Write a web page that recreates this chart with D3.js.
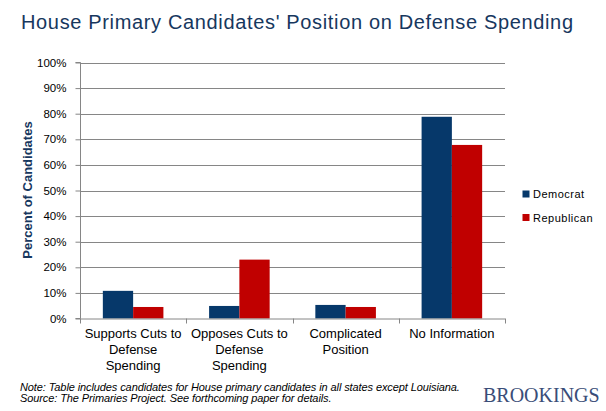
<!DOCTYPE html>
<html><head><meta charset="utf-8">
<script src="https://cdn.jsdelivr.net/npm/d3@7"></script>
<style>body{margin:0;background:#fff;}svg{display:block;font-family:"Liberation Sans",Arial,sans-serif;}</style>
</head><body>
<script>
const categories = [["Supports Cuts to","Defense","Spending"],["Opposes Cuts to","Defense","Spending"],["Complicated","Position"],["No Information"]];
const seriesNames = ["Democrat","Republican"];
const democrat = [10.8, 4.9, 5.3, 78.8];
const republican = [4.5, 23.0, 4.5, 67.8];
const yTicks = [0,10,20,30,40,50,60,70,80,90,100];
const colors = ["#06386A","#C00000"];

const W=606,H=411;
const svg=d3.select("body").append("svg").attr("width",W).attr("height",H);
const x0=80,x1=505,yB=318.5,yT=62.5;
const keys=categories.map((c,i)=>i);
const x=d3.scaleBand().domain(keys).range([x0,x1]).paddingInner(0).paddingOuter(0);
const y=d3.scaleLinear().domain([0,100]).range([yB,yT]);
const inner=d3.scaleBand().domain([0,1]).range([x.bandwidth()*0.215,x.bandwidth()*0.785]);

svg.append("text").attr("x",21).attr("y",29).attr("font-size",20).attr("fill","#17375E")
 .attr("textLength",552).attr("lengthAdjust","spacing")
 .text("House Primary Candidates' Position on Defense Spending");

// gridlines
svg.append("g").selectAll("line").data(yTicks.slice(1)).join("line")
 .attr("x1",x0).attr("x2",x1).attr("y1",d=>Math.round(y(d))+0.5).attr("y2",d=>Math.round(y(d))+0.5)
 .attr("stroke","#868686").attr("stroke-width",1);

const yAxis=svg.append("g").attr("transform",`translate(${x0+0.5},0)`)
 .call(d3.axisLeft(y).tickValues(yTicks).tickFormat(d=>d+"%").tickSize(5).tickPadding(9));
yAxis.select(".domain").attr("stroke","#868686").attr("d",`M-5,${yT}H0V${yB}H-5`);
yAxis.selectAll(".tick line").attr("stroke","#868686");
yAxis.selectAll(".tick text").attr("font-size",11.5).attr("fill","#000").attr("font-family","Liberation Sans, Arial, sans-serif");

// bars
const vals=[democrat,republican];
vals.forEach((arr,s)=>{
 svg.append("g").selectAll("rect").data(arr).join("rect")
  .attr("x",(d,i)=>x(i)+inner(s)).attr("width",inner.bandwidth())
  .attr("y",d=>y(d)).attr("height",d=>yB-y(d)).attr("fill",colors[s]);
});

// x axis
const xg=svg.append("g");
xg.append("line").attr("x1",x0).attr("x2",x1).attr("y1",yB+0.5).attr("y2",yB+0.5).attr("stroke","#868686");
xg.selectAll("line.t").data(d3.range(categories.length+1)).join("line").attr("class","t")
 .attr("x1",i=>Math.round(x0+i*x.bandwidth())+0.5).attr("x2",i=>Math.round(x0+i*x.bandwidth())+0.5)
 .attr("y1",yB).attr("y2",yB+5).attr("stroke","#868686");
categories.forEach((lines,i)=>{
 const t=svg.append("text").attr("text-anchor","middle").attr("font-size",13).attr("fill","#000");
 lines.forEach((l,j)=>t.append("tspan").attr("x",x(i)+x.bandwidth()/2).attr("y",338+j*16).text(l));
});

// y label
svg.append("text").attr("transform","translate(32,190) rotate(-90)").attr("text-anchor","middle")
 .attr("font-size",13).attr("font-weight","bold").attr("fill","#17375E").text("Percent of Candidates");

// legend
seriesNames.forEach((n,i)=>{
 svg.append("rect").attr("x",522.5).attr("y",190.5+i*23.5).attr("width",7).attr("height",7).attr("fill",colors[i]);
 svg.append("text").attr("x",533).attr("y",197.5+i*24).attr("font-size",11).attr("letter-spacing",0.5).attr("fill","#000").text(n);
});

// notes
const note=svg.append("text").attr("font-size",11).attr("font-style","italic").attr("fill","#000").attr("letter-spacing",-0.1);
note.append("tspan").attr("x",20).attr("y",391).text("Note: Table includes candidates for  House primary candidates in all states except Louisiana.");
note.append("tspan").attr("x",20).attr("y",401.5).text("Source: The Primaries Project.  See forthcoming paper for details.");

svg.append("text").attr("x",483).attr("y",401.5).attr("font-size",20).attr("font-family","Liberation Serif, Times New Roman, serif").attr("fill","#3A4D78").text("BROOKINGS");
</script>
</body></html>
